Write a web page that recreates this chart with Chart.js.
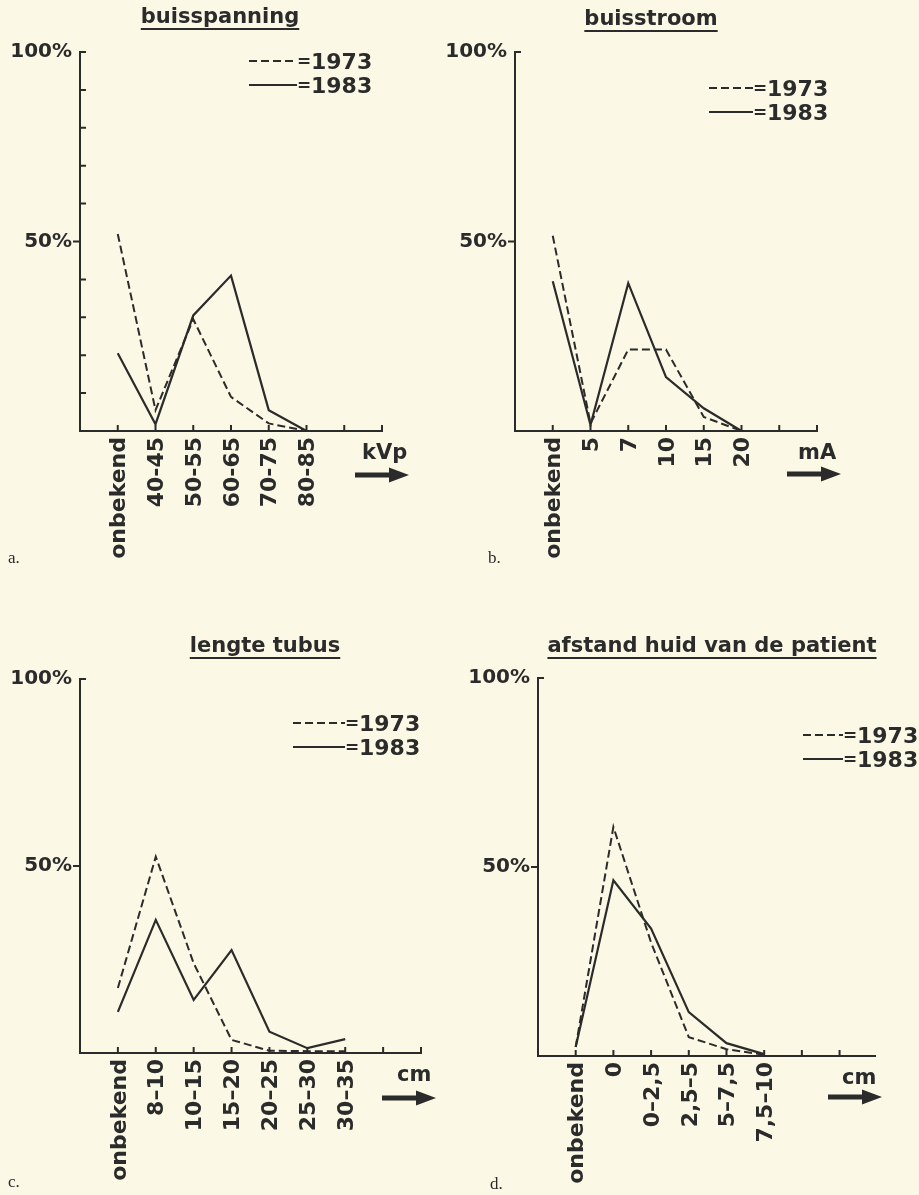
<!DOCTYPE html>
<html>
<head>
<meta charset="utf-8">
<title>buisspanning, buisstroom, lengte tubus, afstand huid</title>
<script src="https://cdn.jsdelivr.net/npm/chart.js@4.4.1/dist/chart.umd.min.js"></script>
<style>
    body { margin: 0; background: #fbf8e5; }
    #page { position: relative; width: 919px; height: 1195px; overflow: hidden; font-family: 'DejaVu Sans', sans-serif; color: #2b2b2b; }
    canvas { position: absolute; }
    .title { position: absolute; font-weight: bold; font-size: 21px; line-height: 24px; white-space: nowrap; transform: translateX(-50%);
             text-decoration: underline; text-decoration-thickness: 2px; text-underline-offset: 5px; text-decoration-skip-ink: none; }
    .legend { position: absolute; font-weight: bold; font-size: 22px; white-space: nowrap; }
    .legend .row { display: flex; align-items: center; height: 24px; }
    .legend .sample { display: inline-block; height: 2px; }
    .legend .dash { background: repeating-linear-gradient(90deg, #2b2b2b 0 8px, transparent 8px 12px); }
    .legend .solid { background: #2b2b2b; }
    .legend .eq { display: inline-block; width: 14px; text-align: center; font-size: 17px; }
    .unit { position: absolute; font-weight: bold; font-size: 21px; line-height: 22px; }
    .arrow { position: absolute; }
    .panel { position: absolute; font-family: 'Liberation Serif', serif; font-size: 17px; line-height: 20px; }
</style>
</head>
<body>
<div id="page">
    <canvas id="chartA" width="460" height="600" style="left:0;top:0"></canvas>
    <canvas id="chartB" width="479" height="600" style="left:440px;top:0"></canvas>
    <canvas id="chartC" width="460" height="575" style="left:0;top:620px"></canvas>
    <canvas id="chartD" width="479" height="575" style="left:440px;top:620px"></canvas>

    <div class="title" style="left:220px;top:4px">buisspanning</div>
    <div class="title" style="left:651px;top:6px">buisstroom</div>
    <div class="title" style="left:265px;top:633px">lengte tubus</div>
    <div class="title" style="left:712px;top:633px">afstand huid van de patient</div>

    <div class="legend" style="left:249px;top:49px">
        <div class="row"><span class="sample dash" style="width:48px"></span><span class="eq">=</span>1973</div>
        <div class="row"><span class="sample solid" style="width:48px"></span><span class="eq">=</span>1983</div>
    </div>
    <div class="legend" style="left:709px;top:76px">
        <div class="row"><span class="sample dash" style="width:44px"></span><span class="eq">=</span>1973</div>
        <div class="row"><span class="sample solid" style="width:44px"></span><span class="eq">=</span>1983</div>
    </div>
    <div class="legend" style="left:293px;top:711px">
        <div class="row"><span class="sample dash" style="width:52px"></span><span class="eq">=</span>1973</div>
        <div class="row"><span class="sample solid" style="width:52px"></span><span class="eq">=</span>1983</div>
    </div>
    <div class="legend" style="left:803px;top:723px">
        <div class="row"><span class="sample dash" style="width:40px"></span><span class="eq">=</span>1973</div>
        <div class="row"><span class="sample solid" style="width:40px"></span><span class="eq">=</span>1983</div>
    </div>

    <div class="unit" style="left:362px;top:441px">kVp</div>
    <div class="unit" style="left:798px;top:441px">mA</div>
    <div class="unit" style="left:397px;top:1063px">cm</div>
    <div class="unit" style="left:842px;top:1066px">cm</div>

    <svg class="arrow" style="left:355px;top:467px" width="54" height="16"><polygon points="0,5.5 34,5.5 34,0.5 54,8 34,15.5 34,10.5 0,10.5" fill="#2b2b2b"/></svg>
    <svg class="arrow" style="left:787px;top:466px" width="54" height="16"><polygon points="0,5.5 34,5.5 34,0.5 54,8 34,15.5 34,10.5 0,10.5" fill="#2b2b2b"/></svg>
    <svg class="arrow" style="left:382px;top:1090px" width="54" height="16"><polygon points="0,5.5 34,5.5 34,0.5 54,8 34,15.5 34,10.5 0,10.5" fill="#2b2b2b"/></svg>
    <svg class="arrow" style="left:828px;top:1089px" width="54" height="16"><polygon points="0,5.5 34,5.5 34,0.5 54,8 34,15.5 34,10.5 0,10.5" fill="#2b2b2b"/></svg>

    <div class="panel" style="left:8px;top:548px">a.</div>
    <div class="panel" style="left:488px;top:548px">b.</div>
    <div class="panel" style="left:8px;top:1172px">c.</div>
    <div class="panel" style="left:490px;top:1174px">d.</div>
</div>

<script>
// percentages
const catsA = ['onbekend', '40-45', '50-55', '60-65', '70-75', '80-85'];
const a1973 = [52, 5.5, 29.5, 9, 2, 0];
const a1983 = [20.5, 1.8, 30.5, 41, 5.5, 0];

const catsB = ['onbekend', '5', '7', '10', '15', '20'];
const b1973 = [51.5, 2, 21.5, 21.5, 3.7, 0];
const b1983 = [39.5, 1.6, 39, 14.2, 6, 0];

const catsC = ['onbekend', '8–10', '10–15', '15–20', '20–25', '25–30', '30–35'];
const c1973 = [17.4, 52.5, 24, 3.5, 0.6, 0.5, 0.5];
const c1983 = [11, 35.6, 14.2, 27.5, 5.7, 1.3, 3.7];

const catsD = ['onbekend', '0', '0–2,5', '2,5–5', '5–7,5', '7,5–10'];
const d1973 = [2.4, 60.6, 30, 5, 1.8, 0.3];
const d1983 = [2.4, 46.5, 33.7, 11.6, 3.4, 0.5];

const yLabels = [50, 100];
const ink = '#2b2b2b';

// small tick marks: inward on the x axis, 50% outward, the rest inward
const tickMarks = {
    id: 'tickMarks',
    afterDraw(chart, args, opts) {
        const { ctx, scales: { x, y } } = chart;
        ctx.save();
        ctx.strokeStyle = ink;
        ctx.lineWidth = 2;
        ctx.beginPath();
        for (let i = 0; i <= opts.lastTick; i++) {
            const px = x.getPixelForValue(i);
            ctx.moveTo(px, y.bottom);
            ctx.lineTo(px, y.bottom - 6);
        }
        y.ticks.forEach(t => {
            if (t.value <= 0) return;
            const py = y.getPixelForValue(t.value);
            ctx.moveTo(x.left, py);
            ctx.lineTo(t.value === 50 ? x.left - 7 : x.left + 6, py);
        });
        ctx.stroke();
        ctx.restore();
    }
};

function makePanel(id, cats, s1973, s1983, box) {
    const ctx = document.getElementById(id);
    const toXY = vals => vals.map((v, i) => ({ x: i, y: v }));

    return new Chart(ctx, {
        type: 'line',
        data: {
            datasets: [{
                label: '1973',
                data: toXY(s1973),
                borderColor: ink,
                borderWidth: 2,
                borderDash: [8, 4],
                pointRadius: 0,
                tension: 0,
                clip: 4
            }, {
                label: '1983',
                data: toXY(s1983),
                borderColor: ink,
                borderWidth: 2.2,
                pointRadius: 0,
                tension: 0,
                clip: 4
            }]
        },
        plugins: [tickMarks],
        options: {
            responsive: false,
            animation: false,
            layout: { padding: { top: box.top, right: box.right, left: 0, bottom: 0 } },
            plugins: {
                legend: { display: false },
                tooltip: { enabled: false },
                tickMarks: { lastTick: box.lastTick }
            },
            scales: {
                x: {
                    type: 'linear',
                    min: -1,
                    max: box.xMax,
                    grid: { display: false, drawTicks: false },
                    border: { display: true, color: ink, width: 2 },
                    ticks: {
                        stepSize: 1,
                        autoSkip: false,
                        minRotation: 90,
                        maxRotation: 90,
                        padding: 6,
                        labelOffset: 2,
                        color: ink,
                        font: { family: 'DejaVu Sans', weight: 'bold', size: 22 },
                        callback: v => cats[v] ?? ''
                    },
                    afterFit: s => { s.height = box.xHeight; }
                },
                y: {
                    min: 0,
                    max: 100,
                    grid: { display: false, drawTicks: false },
                    border: { display: true, color: ink, width: 2 },
                    ticks: {
                        stepSize: box.stepY,
                        padding: 8,
                        color: ink,
                        font: { family: 'DejaVu Sans', weight: 'bold', size: 20 },
                        callback: v => yLabels.includes(v) ? v + '%' : ''
                    },
                    afterFit: s => { s.width = box.yWidth; }
                }
            }
        }
    });
}

document.addEventListener("DOMContentLoaded", function () {
    makePanel('chartA', catsA, a1973, a1983, { top: 52, right: 78, yWidth: 80, xHeight: 169, xMax: 7, lastTick: 7, stepY: 10 });
    makePanel('chartB', catsB, b1973, b1983, { top: 52, right: 102, yWidth: 75, xHeight: 169, xMax: 7, lastTick: 7, stepY: 50 });
    makePanel('chartC', catsC, c1973, c1983, { top: 59, right: 39, yWidth: 80, xHeight: 142, xMax: 8, lastTick: 8, stepY: 50 });
    makePanel('chartD', catsD, d1973, d1983, { top: 58, right: 44, yWidth: 98, xHeight: 139, xMax: 7.94, lastTick: 7, stepY: 50 });
});
</script>
</body>
</html>
